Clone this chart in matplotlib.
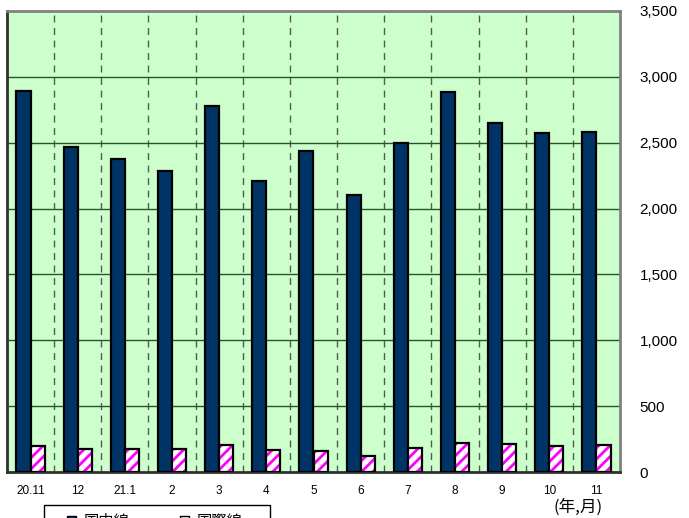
import matplotlib
matplotlib.use("Agg")
import matplotlib.pyplot as plt
import numpy as np
from matplotlib.patches import Patch, Rectangle

plt.rcParams['font.family'] = ['Liberation Sans', 'Noto Sans CJK JP', 'DejaVu Sans']
plt.rcParams['hatch.linewidth'] = 2.0

categories = ["20.11", "12", "21.1", "2", "3", "4", "5", "6", "7", "8", "9", "10", "11"]
domestic = [2890, 2470, 2380, 2285, 2780, 2210, 2440, 2100, 2495, 2885, 2650, 2575, 2585]
international = [195, 172, 176, 178, 205, 168, 160, 122, 185, 220, 210, 198, 204]
yticks = [0, 500, 1000, 1500, 2000, 2500, 3000, 3500]
series_names = ["国内線", "国際線"]

W, H = 689, 518
fig = plt.figure(figsize=(W / 100, H / 100), dpi=100)
ax = fig.add_axes([7 / W, 1 - 472 / H, (620 - 7) / W, (472 - 11) / H])
ax.set_facecolor('#CCFFCC')

x = np.arange(len(categories))
bw = 0.3
ax.bar(x - bw / 2, domestic, width=bw, color='#003366', edgecolor='black', linewidth=1.6, zorder=3)
ax.bar(x + bw / 2, international, width=bw, color='white', edgecolor='#FF00FF', linewidth=0,
       hatch='///', zorder=3)
ax.bar(x + bw / 2, international, width=bw, fill=False, edgecolor='black', linewidth=1.6, zorder=4)

ax.set_xlim(-0.5, len(categories) - 0.5)
ax.set_ylim(0, 3500)

for b in np.arange(0.5, len(categories) - 0.5, 1.0):
    ax.axvline(b, color='#4F5F4F', linestyle=(0, (5, 4)), linewidth=1.0, zorder=1)
for yv in yticks[1:-1]:
    ax.axhline(yv, color='#2F4F2F', linewidth=1.0, zorder=1)

ax.yaxis.tick_right()
ax.set_yticks(yticks)
ax.set_yticklabels([f"{v:,}" for v in yticks], fontsize=11)
ax.tick_params(axis='y', which='both', length=0, pad=14)
ax.set_xticks(x)
ax.set_xticklabels(categories, fontsize=8.5)
ax.tick_params(axis='x', length=0, pad=9)

for s in ax.spines.values():
    s.set_color('#808080')
    s.set_linewidth(2)
ax.spines['left'].set_color('#303030')
ax.spines['bottom'].set_color('#303030')

fig.text(578 / W, 1 - 507 / H, "(年,月)", fontsize=12, ha='center', va='center',
         family=['Noto Sans CJK JP', 'DejaVu Sans'])

# legend frame (cut off by the bottom edge, as in the reference)
fig.add_artist(Rectangle((44 / W, -0.05), (270 - 44) / W, 0.05 + (518 - 505) / H,
                         transform=fig.transFigure, facecolor='white', edgecolor='black',
                         linewidth=1.0, zorder=5))
handles = [Patch(facecolor='#003366', edgecolor='black'),
           Patch(facecolor='white', edgecolor='black')]
leg = fig.legend(handles, series_names, loc='upper left', bbox_to_anchor=(61 / W, 1 - 507 / H),
                 ncol=2, frameon=False, borderaxespad=0,
                 handlelength=0.6, handleheight=0.6, handletextpad=0.5, columnspacing=3.3,
                 prop={'family': ['Noto Sans CJK JP', 'DejaVu Sans'], 'size': 11})
leg.set_zorder(6)

fig.savefig("out.png", dpi=100)
